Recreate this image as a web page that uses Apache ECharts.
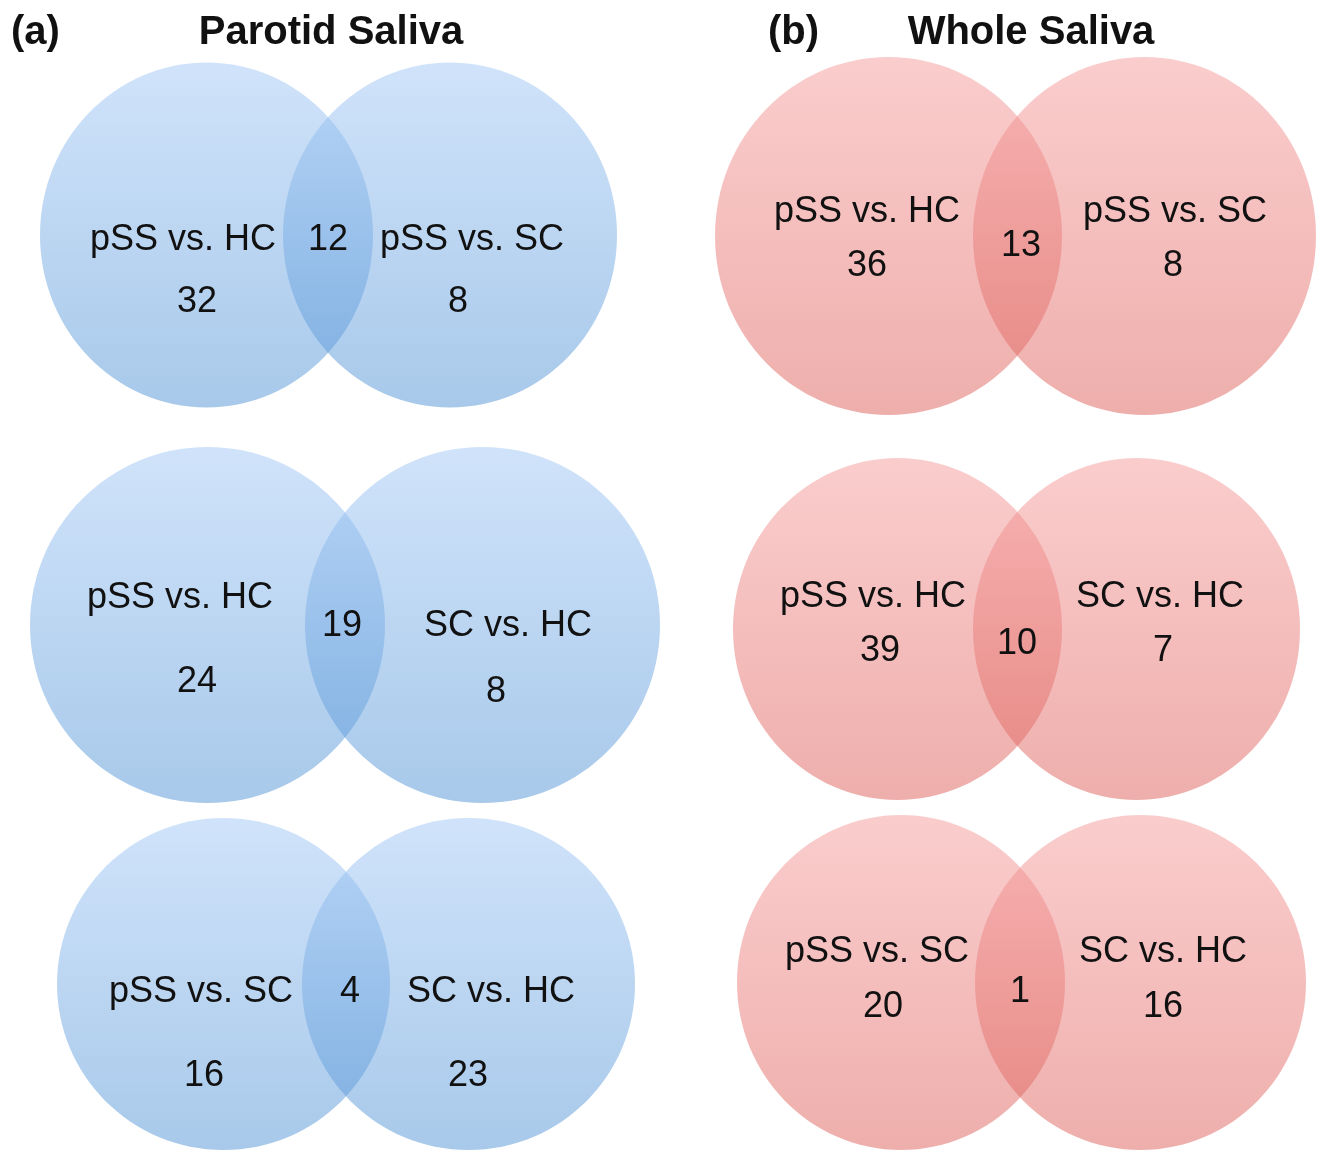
<!DOCTYPE html>
<html>
<head>
<meta charset="utf-8">
<script src="https://cdn.jsdelivr.net/npm/echarts@6/dist/echarts.min.js"></script>
<style>
html,body{margin:0;padding:0;background:#fff;}
#chart{width:1337px;height:1156px;}
</style>
</head>
<body>
<div id="chart"></div>
<script>
// ---- data ----
const panelTags = ['(a)', '(b)'];
const panelTitles = ['Parotid Saliva', 'Whole Saliva'];
const vennPanel = [0, 0, 0, 1, 1, 1];
const leftLabels = ['pSS vs. HC', 'pSS vs. HC', 'pSS vs. SC', 'pSS vs. HC', 'pSS vs. HC', 'pSS vs. SC'];
const rightLabels = ['pSS vs. SC', 'SC vs. HC', 'SC vs. HC', 'pSS vs. SC', 'SC vs. HC', 'SC vs. HC'];
const leftOnly = [32, 24, 16, 36, 39, 20];
const shared = [12, 19, 4, 13, 10, 1];
const rightOnly = [8, 8, 23, 8, 7, 16];

// ---- layout (page units, not data) ----
// [leftCx, rightCx, cy, leftRx, rightRx, ry]
const ellipseLayout = [
  [206.5, 450, 235, 166.5, 167, 172.5],
  [207.5, 482.5, 625, 177.5, 177.5, 178],
  [223.5, 468.5, 984, 166.5, 166.5, 166],
  [888.5, 1144.5, 236, 173.5, 171.5, 179],
  [897.5, 1136.5, 629, 164.5, 163.5, 171],
  [901, 1140.5, 982.5, 164, 165.5, 167.5]
];
// text centres: [lLabel, lCount, mid, rLabel, rCount] each [x,y]
const textLayout = [
  [[183, 240], [197, 302], [328, 240], [472, 240], [458, 302]],
  [[180, 598], [197, 682], [342, 626], [508, 626], [496, 692]],
  [[201, 992], [204, 1076], [350, 992], [491, 992], [468, 1076]],
  [[867, 212], [867, 266], [1021, 246], [1175, 212], [1173, 266]],
  [[873, 597], [880, 651], [1017, 644], [1160, 597], [1163, 651]],
  [[877, 952], [883, 1007], [1020, 992], [1163, 952], [1163, 1007]]
];
const panelColors = [
  ['rgba(161,199,245,0.5)', 'rgba(81,147,213,0.5)'],
  ['rgba(245,155,155,0.5)', 'rgba(221,95,89,0.5)']
];

const FONT = '"Liberation Sans", Arial, Helvetica, sans-serif';
const chart = echarts.init(document.getElementById('chart'), null, {renderer: 'canvas'});

function grad(p) {
  return new echarts.graphic.LinearGradient(0, 0, 0, 1, [
    {offset: 0, color: panelColors[p][0]},
    {offset: 1, color: panelColors[p][1]}
  ]);
}

function renderItem(params, api) {
  const i = api.value(0);
  const L = ellipseLayout[i];
  const T = textLayout[i];
  const p = vennPanel[i];
  const cl = api.coord([L[0], L[2]]);
  const cr = api.coord([L[1], L[2]]);
  const szl = api.size([L[3], L[5]]);
  const szr = api.size([L[4], L[5]]);
  const texts = [leftLabels[i], String(leftOnly[i]), String(shared[i]), rightLabels[i], String(rightOnly[i])];
  const children = [
    {type: 'ellipse', shape: {cx: cl[0], cy: cl[1], rx: szl[0], ry: szl[1]}, style: {fill: grad(p)}},
    {type: 'ellipse', shape: {cx: cr[0], cy: cr[1], rx: szr[0], ry: szr[1]}, style: {fill: grad(p)}}
  ];
  texts.forEach(function (t, k) {
    const c = api.coord(T[k]);
    children.push({
      type: 'text',
      x: c[0], y: c[1],
      style: {text: t, fill: '#111', font: '36px ' + FONT, align: 'center', verticalAlign: 'middle'}
    });
  });
  return {type: 'group', children: children};
}

const titles = [];
panelTags.forEach(function (tag, p) {
  titles.push({text: tag, left: p === 0 ? 6 : 763, top: 8,
    textStyle: {fontSize: 40, fontWeight: 'bold', color: '#111', fontFamily: FONT}});
  titles.push({text: panelTitles[p], left: p === 0 ? 326 : 1026, top: 8, textAlign: 'center',
    textStyle: {fontSize: 40, fontWeight: 'bold', color: '#111', fontFamily: FONT}});
});

chart.setOption({
  backgroundColor: '#fff',
  animation: false,
  title: titles,
  grid: {left: 0, right: 0, top: 0, bottom: 0},
  xAxis: {type: 'value', min: 0, max: 1337, show: false},
  yAxis: {type: 'value', min: 0, max: 1156, inverse: true, show: false},
  series: [{
    type: 'custom',
    coordinateSystem: 'cartesian2d',
    renderItem: renderItem,
    data: leftOnly.map(function (_, i) { return [i]; }),
    encode: {x: -1, y: -1},
    silent: true
  }]
});
</script>
</body>
</html>
